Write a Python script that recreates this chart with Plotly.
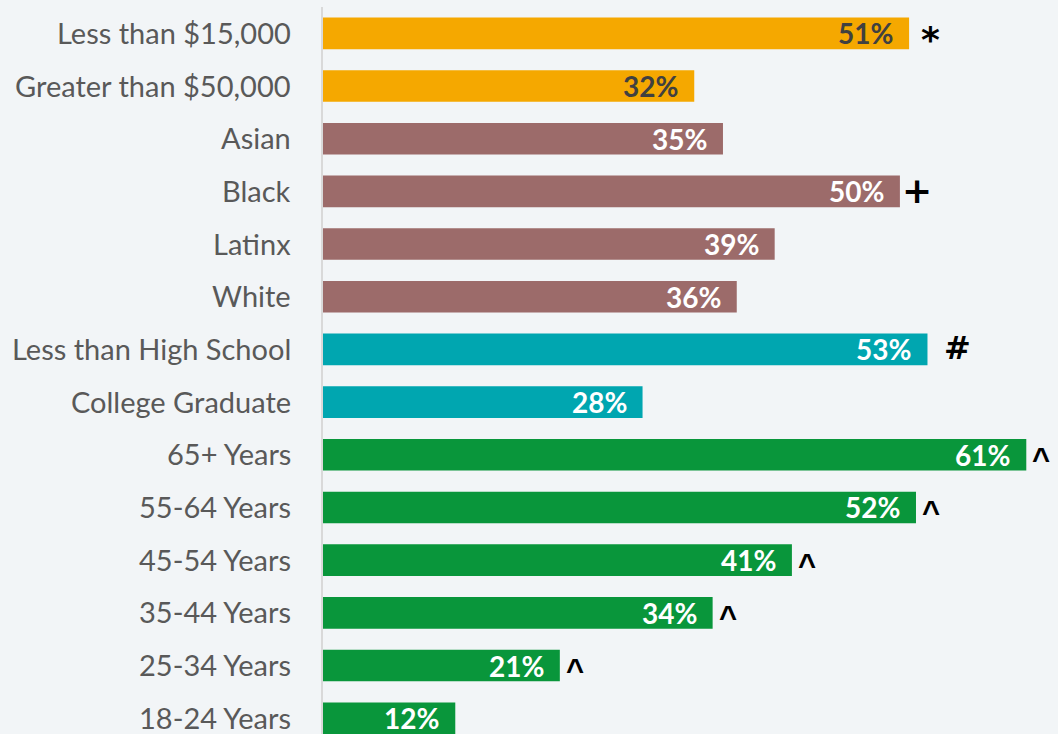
import plotly.graph_objects as go

categories = ["Less than $15,000", "Greater than $50,000", "Asian", "Black", "Latinx", "White",
              "Less than High School", "College Graduate", "65+ Years", "55-64 Years",
              "45-54 Years", "35-44 Years", "25-34 Years", "18-24 Years"]
# bar lengths (unrounded), and the printed labels
values = [51.1, 32.4, 34.9, 50.3, 39.4, 36.1, 52.7, 27.9, 61.3, 51.7, 40.9, 34.0, 20.7, 11.6]
labels = [51, 32, 35, 50, 39, 36, 53, 28, 61, 52, 41, 34, 21, 12]
groups = ["income", "income", "race", "race", "race", "race", "edu", "edu",
          "age", "age", "age", "age", "age", "age"]
markers = ["*", "", "", "+", "", "", "#", "", "^", "^", "^", "^", "^", ""]

group_colors = {"income": "#F5A800", "race": "#9C6B6A", "edu": "#00A6B0", "age": "#09963B"}
label_colors = {"income": "#404040", "race": "#FFFFFF", "edu": "#FFFFFF", "age": "#FFFFFF"}

ypos = list(range(len(categories)))

fig = go.Figure(go.Bar(
    x=values, y=ypos, orientation="h",
    marker=dict(color=[group_colors[g] for g in groups], line=dict(width=0)),
    width=0.6,
    hoverinfo="skip",
))

for y, v, lab, g in zip(ypos, values, labels, groups):
    fig.add_annotation(x=v, y=y, text=f"<b>{lab}%</b>", showarrow=False, xanchor="right",
                       xshift=-14, yshift=0,
                       font=dict(family="Lato", size=28, color=label_colors[g]))

for y, c in zip(ypos, categories):
    fig.add_annotation(x=0, xref="paper", y=y, text=c, showarrow=False, xanchor="right",
                       xshift=-29, yshift=1,
                       font=dict(family="Lato", size=29, color="#595959"))

sym_style = {"*": ("DejaVu Sans", 36, 10, -6), "+": ("DejaVu Sans", 36, 0, 1),
             "#": ("DejaVu Sans", 32, 15, 1), "^": ("Liberation Sans", 31, 4, -5)}
for y, v, m in zip(ypos, values, markers):
    if m:
        fam, size, xs, ys = sym_style[m]
        fig.add_annotation(x=v, y=y, text=f"<b>{m}</b>", showarrow=False, xanchor="left",
                           xshift=xs, yshift=ys,
                           font=dict(family=fam, size=size, color="#000000"))

fig.update_layout(
    width=1058, height=734,
    margin=dict(l=322, r=0, t=7, b=0),
    paper_bgcolor="#F2F5F7", plot_bgcolor="#F2F5F7",
    showlegend=False,
    xaxis=dict(range=[0, 64.06], visible=False, fixedrange=True),
    yaxis=dict(range=[13.3, -0.5], showticklabels=False,
               showgrid=False, zeroline=False, ticks="", fixedrange=True),
    shapes=[dict(type="line", xref="paper", yref="paper", x0=0, x1=0, y0=0, y1=1,
                 line=dict(color="#D9D9D9", width=2))],
)

fig.write_html("out.html", config={"displayModeBar": False},
               post_script="document.body.style.margin='0';document.body.style.background='#F2F5F7';")
